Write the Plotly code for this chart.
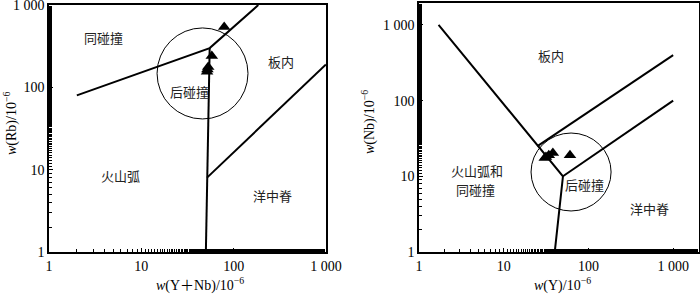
import numpy as np
import plotly.graph_objects as go

# ---- data ----
# left: Rb vs (Y+Nb)
left_ynb = [79, 58, 53, 51.5, 52]
left_rb = [540, 240, 177, 155, 165]
# right: Nb vs Y
right_y = [60.5, 38, 34, 30.5, 31.5]
right_nb = [19, 20.3, 19, 17.4, 18]

tick_vals = [1, 10, 100, 1000]
tick_text = ["1", "10", "100", "1 000"]

# discrimination boundaries (Pearce et al. 1984)
left_lines = [
    ([2, 55, 185], [80, 300, 1000]),
    ([55, 50], [300, 1]),
    ([51.5, 1000], [8, 190]),
]
right_lines = [
    ([1.7, 50, 40], [1000, 10, 1]),
    ([25, 1000], [25, 400]),
    ([50, 1000], [10, 100]),
]

left_labels = [("同碰撞", 3.9, 400), ("板内", 327, 204), ("后碰撞", 32.9, 90),
               ("火山弧", 6.0, 8.6), ("洋中脊", 261, 4.8)]
right_labels = [("板内", 36, 400), ("火山弧和", 4.8, 12.1), ("同碰撞", 4.7, 6.6),
                ("后碰撞", 89, 7.9), ("洋中脊", 520, 3.7)]

fig = go.Figure()

for xs, ys in left_lines:
    fig.add_trace(go.Scatter(x=xs, y=ys, mode="lines", line=dict(color="black", width=2),
                             xaxis="x", yaxis="y", showlegend=False, hoverinfo="skip"))
for xs, ys in right_lines:
    fig.add_trace(go.Scatter(x=xs, y=ys, mode="lines", line=dict(color="black", width=2),
                             xaxis="x2", yaxis="y2", showlegend=False, hoverinfo="skip"))

fig.add_trace(go.Scatter(x=left_ynb, y=left_rb, mode="markers",
                         marker=dict(symbol="triangle-up", size=11, color="black"),
                         xaxis="x", yaxis="y", showlegend=False))
fig.add_trace(go.Scatter(x=right_y, y=right_nb, mode="markers",
                         marker=dict(symbol="triangle-up", size=11, color="black"),
                         xaxis="x2", yaxis="y2", showlegend=False))

# circles
fig.add_shape(type="circle", xref="x", yref="y", x0=14.8, x1=143, y0=41.3, y1=527,
              line=dict(color="black", width=1))
fig.add_shape(type="circle", xref="x2", yref="y2", x0=21, x1=185, y0=3.48, y1=37.3,
              line=dict(color="black", width=1))

cjk = "Noto Sans CJK SC"
for t, x, y in left_labels:
    fig.add_annotation(text=t, x=np.log10(x), y=np.log10(y), xref="x", yref="y",
                       showarrow=False, font=dict(family=cjk, size=13, color="#222"))
for t, x, y in right_labels:
    fig.add_annotation(text=t, x=np.log10(x), y=np.log10(y), xref="x2", yref="y2",
                       showarrow=False, font=dict(family=cjk, size=13, color="#222"))

serif = "Liberation Serif, Noto Sans CJK SC"
W, H = 700, 294
def px(x):
    return x / W
def py(y):
    return 1 - y / H

title_font = dict(family=serif, size=14, color="black")
fig.add_annotation(text="<i>w</i>(Y＋Nb)/10<sup>−6</sup>", x=px(200), y=py(284), xref="paper", yref="paper",
                   xanchor="center", yanchor="middle", showarrow=False, font=title_font)
fig.add_annotation(text="<i>w</i>(Y)/10<sup>−6</sup>", x=px(562), y=py(284), xref="paper", yref="paper",
                   xanchor="center", yanchor="middle", showarrow=False, font=title_font)
fig.add_annotation(text="<i>w</i>(Rb)/10<sup>−6</sup>", x=px(10), y=py(124), xref="paper", yref="paper",
                   xanchor="center", yanchor="middle", textangle=-90, showarrow=False, font=title_font)
fig.add_annotation(text="<i>w</i>(Nb)/10<sup>−6</sup>", x=px(368), y=py(122), xref="paper", yref="paper",
                   xanchor="center", yanchor="middle", textangle=-90, showarrow=False, font=title_font)

axis_common = dict(type="log", showgrid=False, zeroline=False, showline=True, linecolor="black",
                   linewidth=1.5, mirror=True, ticks="inside", ticklen=4, tickcolor="black",
                   tickvals=tick_vals, ticktext=tick_text, ticklabeloverflow="allow",
                   automargin=False,
                   tickfont=dict(family=serif, size=14, color="black"),
                   minor=dict(ticks="inside", ticklen=3, tickcolor="black", showgrid=False))

fig.update_layout(
    width=W, height=H, margin=dict(l=0, r=0, t=0, b=0, autoexpand=False),
    paper_bgcolor="white", plot_bgcolor="white", showlegend=False,
    xaxis=dict(axis_common, domain=[px(49), px(326)], range=[-0.0005, 3.0005], anchor="y"),
    yaxis=dict(axis_common, domain=[py(252), py(5)], range=[-0.0005, 3.0005], anchor="x"),
    xaxis2=dict(axis_common, domain=[px(419), px(699)], range=[-0.0005, 3.305], anchor="y2"),
    yaxis2=dict(axis_common, domain=[py(252), py(3)], range=[-0.0005, 3.29], anchor="x2"),
)

fig.write_html("out.html", config={"displayModeBar": False},
               post_script="document.body.style.margin='0';")
